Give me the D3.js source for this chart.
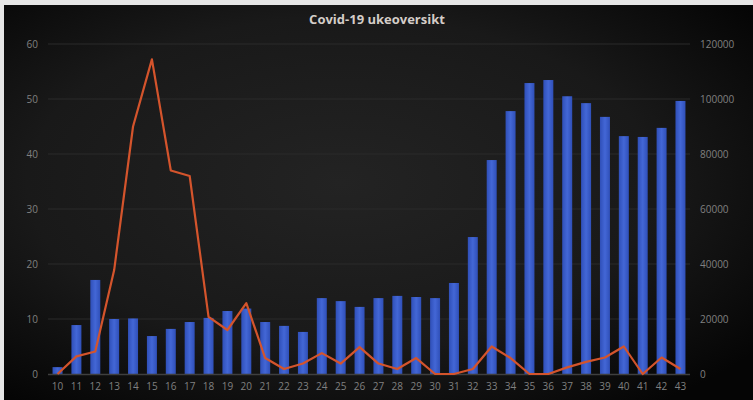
<!DOCTYPE html>
<html>
<head>
<meta charset="utf-8">
<script src="https://cdn.jsdelivr.net/npm/d3@7"></script>
<style>
  html, body { margin: 0; padding: 0; background: #fff; }
  svg { display: block; }
</style>
</head>
<body>
<div id="chart"></div>
<script>
// uke 10 - 43
var weeks = d3.range(10, 44).map(String);

// bars (right axis)
var barValues = [2500, 17800, 34200, 20000, 20200, 13800, 16400, 18900, 20400, 22900,
                 23800, 18900, 17500, 15300, 27600, 26500, 24400, 27600, 28400, 28000,
                 27600, 33100, 49800, 77800, 95600, 105800, 106900, 101000, 98500, 93500,
                 86500, 86200, 89500, 99300];

// line (left axis)
var lineValues = [0, 3.2, 4.1, 18.9, 45, 57.2, 37, 36, 10.4, 8,
                  12.9, 2.9, 0.9, 1.9, 3.8, 1.9, 4.9, 1.9, 0.9, 2.9,
                  0, 0, 0.9, 5.0, 2.9, 0, 0, 1.2, 2.2, 3.0,
                  5.0, 0, 3.0, 0.9];

var leftTicks = [0, 10, 20, 30, 40, 50, 60];
var rightTicks = [0, 20000, 40000, 60000, 80000, 100000, 120000];

var W = 753, H = 400;
var margin = {top: 44, right: 63, bottom: 26, left: 48};

var svg = d3.select("#chart").append("svg")
  .attr("width", W)
  .attr("height", H);

var defs = svg.append("defs");
var bg = defs.append("radialGradient")
  .attr("id", "bg")
  .attr("cx", "45%").attr("cy", "45%").attr("r", "70%");
bg.append("stop").attr("offset", "0%").attr("stop-color", "#232323");
bg.append("stop").attr("offset", "60%").attr("stop-color", "#191919");
bg.append("stop").attr("offset", "100%").attr("stop-color", "#050505");

var barGrad = defs.append("linearGradient")
  .attr("id", "barGrad")
  .attr("x1", 0).attr("x2", 1).attr("y1", 0).attr("y2", 0);
barGrad.append("stop").attr("offset", "0%").attr("stop-color", "#2f4fb8");
barGrad.append("stop").attr("offset", "50%").attr("stop-color", "#4367d6");
barGrad.append("stop").attr("offset", "100%").attr("stop-color", "#2f4fb8");

// frame: light edge on top/left
svg.append("rect").attr("width", W).attr("height", H).attr("fill", "#e6e6e6");
svg.append("rect")
  .attr("x", 4).attr("y", 5)
  .attr("width", W - 4).attr("height", H - 5)
  .attr("fill", "url(#bg)");

var x = d3.scaleBand()
  .domain(weeks)
  .range([margin.left, W - margin.right])
  .paddingInner(0.47)
  .paddingOuter(0.24);

var yL = d3.scaleLinear().domain([0, 60]).range([H - margin.bottom, margin.top]);
var yR = d3.scaleLinear().domain([0, 120000]).range([H - margin.bottom, margin.top]);

// grid
svg.append("g")
  .selectAll("line")
  .data(leftTicks.slice(1))
  .enter()
  .append("line")
  .attr("x1", margin.left).attr("x2", W - margin.right)
  .attr("y1", function(d){ return yL(d); })
  .attr("y2", function(d){ return yL(d); })
  .attr("stroke", "#2a2a2a")
  .attr("stroke-width", 1);

// bars
svg.append("g")
  .selectAll("rect")
  .data(barValues)
  .enter()
  .append("rect")
  .attr("x", function(d, i){ return x(weeks[i]); })
  .attr("width", x.bandwidth())
  .attr("y", function(d){ return yR(d); })
  .attr("height", function(d){ return yR(0) - yR(d); })
  .attr("fill", "url(#barGrad)");

// baseline
svg.append("line")
  .attr("x1", margin.left).attr("x2", W - margin.right)
  .attr("y1", yL(0) + 0.5).attr("y2", yL(0) + 0.5)
  .attr("stroke", "#3f3f3f")
  .attr("stroke-width", 1.5);

// line
var line = d3.line()
  .x(function(d, i){ return x(weeks[i]) + x.bandwidth() / 2; })
  .y(function(d){ return yL(d); });

svg.append("path")
  .datum(lineValues)
  .attr("d", line)
  .attr("fill", "none")
  .attr("stroke", "#d4542c")
  .attr("stroke-width", 2.2)
  .attr("stroke-linejoin", "round");

// axes
var axisLeft = d3.axisLeft(yL).tickValues(leftTicks).tickSize(0).tickPadding(0);
var gL = svg.append("g")
  .attr("transform", "translate(38,0)")
  .call(axisLeft);

var axisRight = d3.axisRight(yR).tickValues(rightTicks).tickSize(0).tickPadding(0)
  .tickFormat(d3.format("d"));
var gR = svg.append("g")
  .attr("transform", "translate(700,0)")
  .call(axisRight);

var axisBottom = d3.axisBottom(x).tickSize(0).tickPadding(0);
var gB = svg.append("g")
  .attr("transform", "translate(0," + (yL(0) + 9) + ")")
  .call(axisBottom);

[gL, gR, gB].forEach(function(g){
  g.select(".domain").remove();
  g.selectAll("text")
    .attr("fill", "#808080")
    .style("font-family", "'Open Sans', 'Liberation Sans', sans-serif")
    .style("font-size", "10px");
});

// title
svg.append("text")
  .attr("x", 377)
  .attr("y", 24)
  .attr("text-anchor", "middle")
  .attr("fill", "#d4cdc8")
  .style("font-family", "'Open Sans', 'Liberation Sans', sans-serif")
  .style("font-weight", "bold")
  .style("font-size", "13px")
  .text("Covid-19 ukeoversikt");
</script>
</body>
</html>
